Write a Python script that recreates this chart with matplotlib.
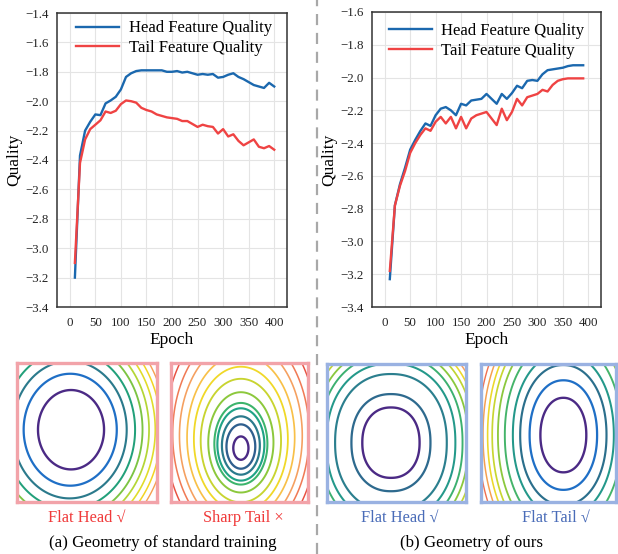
import numpy as np
import matplotlib
matplotlib.use('Agg')
import matplotlib.pyplot as plt
from matplotlib.lines import Line2D
from matplotlib.ticker import FuncFormatter

plt.rcParams['font.family'] = ['Liberation Serif', 'DejaVu Serif']
plt.rcParams['axes.unicode_minus'] = True

# ---- curve data ----
epochs_std = np.arange(10, 410, 10)
head_std = [-3.20, -2.37, -2.20, -2.14, -2.09, -2.095, -2.015, -1.995, -1.97, -1.92,
            -1.835, -1.81, -1.795, -1.79, -1.79, -1.79, -1.79, -1.79, -1.80, -1.80,
            -1.795, -1.805, -1.80, -1.81, -1.82, -1.815, -1.82, -1.815, -1.84, -1.835,
            -1.82, -1.81, -1.835, -1.85, -1.87, -1.89, -1.90, -1.91, -1.875, -1.90]
tail_std = [-3.10, -2.42, -2.26, -2.19, -2.16, -2.13, -2.07, -2.08, -2.065, -2.02,
            -1.995, -2.00, -2.01, -2.045, -2.06, -2.07, -2.09, -2.10, -2.11, -2.115,
            -2.12, -2.135, -2.135, -2.155, -2.175, -2.16, -2.17, -2.175, -2.22, -2.19,
            -2.24, -2.225, -2.27, -2.30, -2.28, -2.26, -2.31, -2.32, -2.305, -2.33]

epochs_ours = np.arange(10, 400, 10)
head_ours = [-3.23, -2.78, -2.65, -2.55, -2.44, -2.38, -2.326, -2.28, -2.295, -2.23,
             -2.19, -2.18, -2.20, -2.23, -2.16, -2.17, -2.14, -2.135, -2.13, -2.10,
             -2.13, -2.16, -2.10, -2.13, -2.095, -2.05, -2.065, -2.02, -2.015, -2.02,
             -1.98, -1.955, -1.95, -1.945, -1.94, -1.93, -1.925, -1.925, -1.925]
tail_ours = [-3.18, -2.78, -2.66, -2.57, -2.46, -2.40, -2.35, -2.31, -2.325, -2.27,
             -2.24, -2.28, -2.24, -2.31, -2.24, -2.31, -2.25, -2.23, -2.22, -2.21,
             -2.25, -2.29, -2.19, -2.26, -2.21, -2.13, -2.17, -2.12, -2.11, -2.10,
             -2.075, -2.085, -2.045, -2.02, -2.01, -2.005, -2.005, -2.005, -2.005]

legend_labels = ['Head Feature Quality', 'Tail Feature Quality']

# ---- loss landscape shapes: centre, scales, norm power, tilt, contour levels ----
land_centre = [(0.40, 0.52), (0.51, 0.375), (0.46, 0.43), (0.61, 0.485)]
land_scale = [(0.235, 0.285), (0.0547, 0.082), (0.206, 0.255), (0.17, 0.27)]
land_power = [2.0, 2.0, 2.2, 2.1]
land_tilt = [(0.06, 0.0), (0.0, -0.15), (0.0, 0.0), (0.0, 0.0)]
land_levels = [
    [1, 1.41, 1.73, 2.0, 2.24, 2.45, 2.65, 2.83, 3.0],
    [1, 1.9, 2.5, 3.1, 3.5, 4.3, 5.3, 6.2, 7.1, 8.1, 9.0, 10.0, 11.0],
    [1, 1.38, 1.95, 2.25, 2.5, 2.7, 2.9, 3.05, 3.2, 3.35],
    [1, 1.47, 1.88, 2.2, 2.55, 2.85, 3.1, 3.3, 3.5, 3.7],
]
panel_labels = ['Flat Head √', 'Sharp Tail ×', 'Flat Head √', 'Flat Tail √']
group_labels = ['(a) Geometry of standard training', '(b) Geometry of ours']

# ---- styles ----
blue = '#1b68ae'
red = '#ef4343'
pal_a = ['#4b2a85', '#1f6fc6', '#2b7a8c', '#22a07a', '#7cc443', '#b4d636',
         '#e0dc2a', '#f2d422', '#f5a050']
pal_b = ['#4b2a85', '#2f5f8e', '#2a7a8c', '#20a386', '#3cb46c', '#8cc83c',
         '#c8d430', '#f0d828', '#f8c048', '#f5a060', '#f07a55', '#e85040', '#d02828']
pal_c = ['#4b2a85', '#2e6a8e', '#2b7f8e', '#24998a', '#3cb070', '#8ac83e',
         '#c0d432', '#ecd82a', '#f5a060', '#f07a5a']
pal_d = ['#4b2a85', '#1f6fc6', '#2b6f8c', '#24988a', '#45b46a', '#8cc83e',
         '#c8d630', '#ecd82a', '#f5a050', '#f07050']
panel_colors = [pal_a, pal_b, pal_c, pal_d]
border = ['#f2a3a9', '#f2a3a9', '#9ab2e2', '#9ab2e2']
text_col = ['#f03a3a', '#f03a3a', '#4a6cb8', '#4a6cb8']

W, H = 618, 554
fig = plt.figure(figsize=(W / 100, H / 100), dpi=100)


def px_axes(x0, y0, x1, y1):
    return fig.add_axes([x0 / W, 1 - y1 / H, (x1 - x0) / W, (y1 - y0) / H])


minus_fmt = FuncFormatter(lambda v, _: f'{v:.1f}'.replace('-', '\u2212'))


def curve_plot(ax, ep, head, tail, ylim, leg_anchor):
    ax.plot(ep, head, color=blue, lw=1.7, label=legend_labels[0])
    ax.plot(ep, tail, color=red, lw=1.7, label=legend_labels[1])
    ax.set_xlim(-25, 425)
    ax.set_ylim(*ylim)
    ax.set_xticks(np.arange(0, 401, 50))
    ax.set_yticks(np.arange(ylim[0], ylim[1] + 0.01, 0.2))
    ax.yaxis.set_major_formatter(minus_fmt)
    ax.grid(color='#e4e4e4', lw=0.8)
    ax.set_axisbelow(True)
    ax.tick_params(axis='both', length=0, labelsize=9.3, colors='#222222')
    ax.tick_params(axis='x', pad=7.5)
    ax.tick_params(axis='y', pad=6)
    for s in ax.spines.values():
        s.set_color('#333333')
        s.set_linewidth(1.1)
    ax.set_xlabel('Epoch', fontsize=12.5, labelpad=2)
    ax.set_ylabel('Quality', fontsize=12.5, labelpad=2)
    ax.legend(loc='upper left', bbox_to_anchor=leg_anchor, frameon=False,
              fontsize=12, handlelength=2.6, handletextpad=0.55,
              borderpad=0, borderaxespad=0, labelspacing=0.2)


ax1 = px_axes(57, 13, 287, 307)
curve_plot(ax1, epochs_std, head_std, tail_std, (-3.4, -1.4), (0.083, 0.975))
ax2 = px_axes(372, 12, 601, 307)
curve_plot(ax2, epochs_ours, head_ours, tail_ours, (-3.4, -1.6), (0.074, 0.962))

# landscape panels
g = np.linspace(0, 1, 400)
X, Y = np.meshgrid(g, g)
boxes = [(17, 363, 157, 502), (171, 363, 308, 502), (327, 364, 466, 502), (481, 364, 616, 502)]
label_x = [87, 243, 400, 556]
for i in range(4):
    ax = px_axes(*boxes[i])
    cx, cy = land_centre[i]
    sx, sy = land_scale[i]
    p = land_power[i]
    tx, ty = land_tilt[i]
    u = (X - cx) / sx
    v = (Y - cy) / sy
    Z = (np.abs(u) ** p + np.abs(v) ** p) ** (1 / p) + tx * u + ty * v
    lv = land_levels[i]
    cols = panel_colors[i][:len(lv)]
    lws = np.linspace(1.7, 1.0, len(lv))
    ax.contour(X, Y, Z, levels=lv, colors=cols, linewidths=lws)
    ax.set_xlim(0, 1)
    ax.set_ylim(0, 1)
    ax.set_xticks([])
    ax.set_yticks([])
    for s in ax.spines.values():
        s.set_color(border[i])
        s.set_linewidth(2.4)
    fig.text(label_x[i] / W, 1 - 518 / H, panel_labels[i], color=text_col[i],
             fontsize=11.8, ha='center', va='center')

fig.text(163 / W, 1 - 543 / H, group_labels[0], fontsize=12.2, ha='center', va='center')
fig.text(472 / W, 1 - 543 / H, group_labels[1], fontsize=12.2, ha='center', va='center')

# dashed separator
fig.add_artist(Line2D([317 / W, 317 / W], [0, 1], transform=fig.transFigure,
                      color='#a8a8a8', lw=1.6, dashes=(5, 3.5)))

fig.savefig('out.png', dpi=100)
